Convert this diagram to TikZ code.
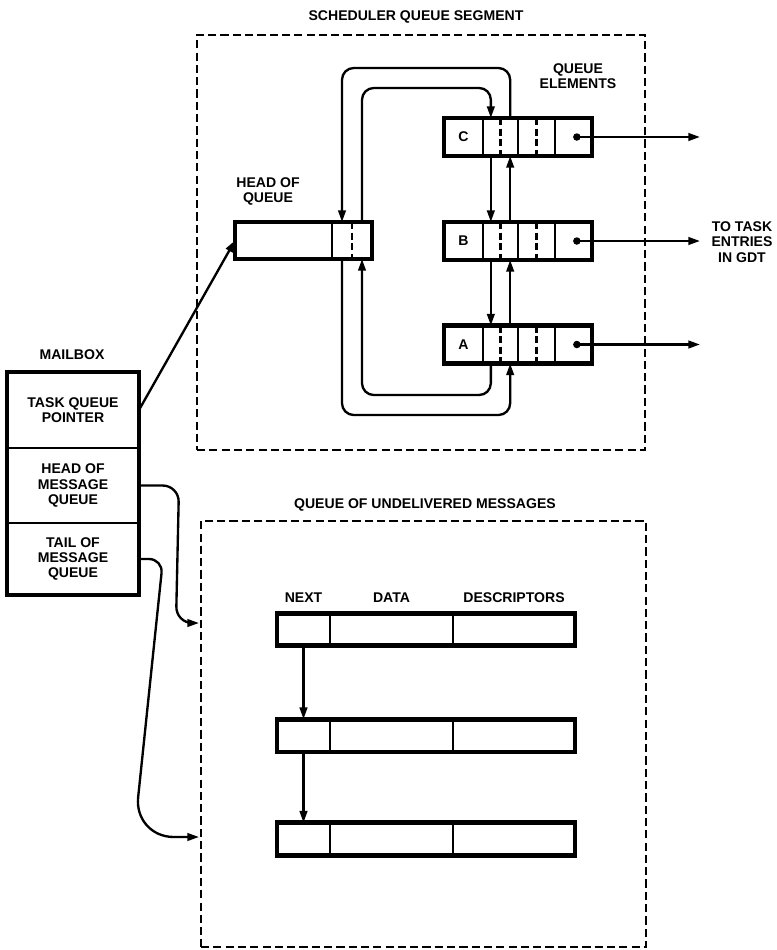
\documentclass[tikz,border=0pt]{standalone}
\usepackage{fontspec}
\setmainfont{Liberation Sans}
\usetikzlibrary{arrows.meta,positioning}

\begin{document}
\begin{tikzpicture}[x=0.03cm,y=-0.03cm,
  font=\fontsize{12}{13}\selectfont\bfseries,
  >={Triangle[length=10pt,width=6.5pt]},
  lbl/.style={align=center,inner sep=1pt},
  segbox/.style={draw,line width=2.3pt,dash pattern=on 7pt off 3.5pt,inner sep=0},
  cell/.style={draw,line width=2pt,inner sep=0,outer sep=0,minimum height=1.14cm},
  mbox/.style={cell,line width=2pt,minimum width=3.96cm,align=center},
  msgcell/.style={cell,minimum height=0.98cm},
  frame/.style={line width=4pt},
  divdash/.style={line width=2pt,dash pattern=on 6pt off 3pt},
  link/.style={->,line width=2pt,rounded corners=10pt}]
\useasboundingbox (0,0) rectangle (776,950);
% scheduler queue segment
\node[lbl] (tSched) at (416,17) {SCHEDULER QUEUE SEGMENT};
\node[segbox,minimum width=13.44cm,minimum height=12.45cm] (sched) at (421,242.5) {};
\node[lbl] (tElem) at (578,76) {QUEUE\\ELEMENTS};
\node[lbl] (tHead) at (268,191.5) {HEAD OF\\QUEUE};
\node[lbl] (tGdt) at (742,242) {TO TASK\\ENTRIES\\IN GDT};
% head of queue
\node[cell,minimum width=2.91cm,minimum height=1.11cm] (hqMain) at (283.5,240.5) {};
\node[cell,minimum width=1.2cm,minimum height=1.11cm,right=0pt of hqMain] (hqLink) {};
\draw[frame] (hqMain.north west) rectangle (hqLink.south east);
\draw[divdash] (hqLink.north) -- (hqLink.south);
% queue elements
\node[cell,minimum width=1.17cm] (cLbl) at (463.5,137) {C};
\node[cell,minimum width=1.05cm,right=0pt of cLbl] (cP1) {};
\node[cell,minimum width=1.11cm,right=0pt of cP1] (cP2) {};
\node[cell,minimum width=1.11cm,right=0pt of cP2] (cPtr) {};
\node[cell,minimum width=1.17cm] (bLbl) at (463.5,241) {B};
\node[cell,minimum width=1.05cm,right=0pt of bLbl] (bP1) {};
\node[cell,minimum width=1.11cm,right=0pt of bP1] (bP2) {};
\node[cell,minimum width=1.11cm,right=0pt of bP2] (bPtr) {};
\node[cell,minimum width=1.17cm] (aLbl) at (463.5,344.5) {A};
\node[cell,minimum width=1.05cm,right=0pt of aLbl] (aP1) {};
\node[cell,minimum width=1.11cm,right=0pt of aP1] (aP2) {};
\node[cell,minimum width=1.11cm,right=0pt of aP2] (aPtr) {};
\coordinate (gdtEnd) at (700,0);
\foreach \e in {c,b,a}{
  \draw[frame] (\e Lbl.north west) rectangle (\e Ptr.south east);
  \draw[divdash] (\e P1.north) -- (\e P1.south);
  \draw[divdash] (\e P2.north) -- (\e P2.south);
  \fill ([xshift=.1cm]\e Ptr.center) circle (3.2pt);
  \draw[link] ([xshift=.1cm]\e Ptr.center) -- (\e Ptr.center -| gdtEnd);
}
% links between elements
\draw[link] ([xshift=-.29cm]cP1.south) -- ([xshift=-.29cm]bP1.north);
\draw[link] ([xshift=.29cm]bP1.north) -- ([xshift=.29cm]cP1.south);
\draw[link] ([xshift=-.29cm]bP1.south) -- ([xshift=-.29cm]aP1.north);
\draw[link] ([xshift=.29cm]aP1.north) -- ([xshift=.29cm]bP1.south);
% loops to the head of queue
\draw[link] ([xshift=.3cm]hqLink.north) -- ++(0,-134) -| ([xshift=-.29cm]cP1.north);
\draw[link] ([xshift=.29cm]cP1.north) -- ++(0,-50) -| ([xshift=-.3cm]hqLink.north);
\draw[link] ([xshift=-.29cm]aP1.south) -- ++(0,31.5) -| ([xshift=.3cm]hqLink.south);
\draw[link] ([xshift=-.3cm]hqLink.south) -- ++(0,156) -| ([xshift=.29cm]aP1.south);
% mailbox
\node[lbl] (tMail) at (72,355) {MAILBOX};
\node[mbox,minimum height=2.28cm] (mTask) at (73,410) {TASK QUEUE\\POINTER};
\node[mbox,minimum height=2.25cm,below=0pt of mTask] (mHead) {HEAD OF\\MESSAGE\\QUEUE};
\node[mbox,minimum height=2.16cm,below=0pt of mHead] (mTail) {TAIL OF\\MESSAGE\\QUEUE};
\draw[line width=3.4pt] (mTask.north west) rectangle (mTail.south east);
\draw[link] (mTask.east) -- (hqMain.west);
% queue of undelivered messages
\node[lbl] (tUndl) at (425,505) {QUEUE OF UNDELIVERED MESSAGES};
\node[segbox,minimum width=13.35cm,minimum height=12.78cm] (undl) at (423.5,734) {};
\node[msgcell,minimum width=1.59cm] (m1Next) at (303.5,629.5) {};
\node[msgcell,minimum width=3.69cm,right=0pt of m1Next] (m1Data) {};
\node[msgcell,minimum width=3.66cm,right=0pt of m1Data] (m1Desc) {};
\node[msgcell,minimum width=1.59cm] (m2Next) at (303.5,735.5) {};
\node[msgcell,minimum width=3.69cm,right=0pt of m2Next] (m2Data) {};
\node[msgcell,minimum width=3.66cm,right=0pt of m2Data] (m2Desc) {};
\node[msgcell,minimum width=1.59cm] (m3Next) at (303.5,839) {};
\node[msgcell,minimum width=3.69cm,right=0pt of m3Next] (m3Data) {};
\node[msgcell,minimum width=3.66cm,right=0pt of m3Data] (m3Desc) {};
\foreach \m in {m1,m2,m3}
  \draw[frame] (\m Next.north west) rectangle (\m Desc.south east);
\node[lbl,above=8pt of m1Next] (hNext) {NEXT};
\node[lbl,above=8pt of m1Data] (hData) {DATA};
\node[lbl,above=8pt of m1Desc] (hDesc) {DESCRIPTORS};
\draw[link] (m1Next.south) -- (m2Next.north);
\draw[link] (m2Next.south) -- (m3Next.north);
% message queue pointers
\coordinate (headIn) at (199,623);
\coordinate (tailIn) at (199,837);
\draw[link,rounded corners=14pt] (mHead.east) -- ++(40,0) -- ++(-3,137.5) -- (headIn);
\draw[link] (mTail.east) [rounded corners=12pt] -- ++(24,0) [rounded corners=34pt] -- ++(-29,278) -- (tailIn);
\end{tikzpicture}
\end{document}
